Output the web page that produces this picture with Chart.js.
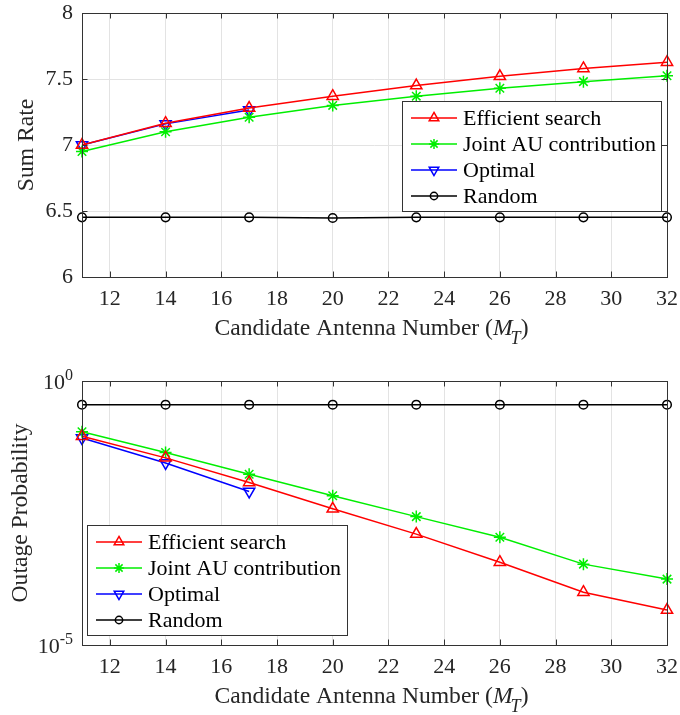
<!DOCTYPE html>
<html>
<head>
<meta charset="utf-8">
<script src="https://cdn.jsdelivr.net/npm/chart.js@4/dist/chart.umd.min.js"></script>
<style>
  html, body { margin: 0; padding: 0; background: #ffffff; }
  #wrap { position: relative; width: 680px; height: 715px; }
  canvas { position: absolute; left: 0; }
  #rate { top: 0; }
  #outage { top: 357px; }
</style>
</head>
<body>
<div id="wrap">
  <canvas id="rate" width="680" height="357"></canvas>
  <canvas id="outage" width="680" height="358"></canvas>
</div>
<script>
// Candidate antenna numbers M_T
const antennaNumbers = [11, 14, 17, 20, 23, 26, 29, 32];
const optimalAntennaNumbers = [11, 14, 17];
const xTickValues = [12, 14, 16, 18, 20, 22, 24, 26, 28, 30, 32];

// Sum rate
const rateEfficient = [7.00, 7.165, 7.28, 7.37, 7.45, 7.52, 7.58, 7.627];
const rateJoint     = [6.95, 7.10, 7.21, 7.30, 7.37, 7.43, 7.48, 7.525];
const rateOptimal   = [7.00, 7.16, 7.265];
const rateRandom    = [6.452, 6.452, 6.452, 6.447, 6.452, 6.452, 6.452, 6.452];
const rateTickValues = [6, 6.5, 7, 7.5, 8];

// Outage probability
const outEfficient = [0.090, 0.035, 0.0120, 0.0038, 0.00126, 3.7e-4, 1.0e-4, 4.6e-5];
const outJoint     = [0.109, 0.0443, 0.0172, 0.0067, 0.0027, 0.0011, 3.4e-4, 1.77e-4];
const outOptimal   = [0.083, 0.028, 0.0081];
const outRandom    = [0.356, 0.356, 0.356, 0.356, 0.356, 0.356, 0.356, 0.356];
const outTickExponents = [-5, 0];

const seriesNames = ['Efficient search', 'Joint AU contribution', 'Optimal', 'Random'];

const FONT = '"Liberation Serif", "Times New Roman", serif';
const FS = 22;      // tick labels and legend
const FT = 23.6;    // axis titles
const TEXT = '#262626';
const AXIS = '#333333';
const GRID = '#e3e3e3';

function pts(xs, ys) { return ys.map((y, i) => ({ x: xs[i], y: y })); }

function styles() {
  return [
    { color: '#ff0000', pointStyle: 'triangle', radius: 6.5, rotation: 0 },
    { color: '#00ee00', pointStyle: 'star', radius: 6, rotation: 0 },
    { color: '#0000ff', pointStyle: 'triangle', radius: 6.5, rotation: 180 },
    { color: '#000000', pointStyle: 'circle', radius: 4.3, rotation: 0 }
  ];
}

function makeDatasets(series) {
  const st = styles();
  return series.map((s, i) => ({
    label: seriesNames[i],
    data: s,
    borderColor: st[i].color,
    backgroundColor: 'rgba(0,0,0,0)',
    borderWidth: 1.5,
    pointStyle: st[i].pointStyle,
    pointRadius: st[i].radius,
    pointRotation: st[i].rotation,
    pointBorderColor: st[i].color,
    pointBackgroundColor: 'rgba(0,0,0,0)',
    pointBorderWidth: 1.5,
    tension: 0,
    clip: false
  }));
}

// Box frame, inward ticks, axis titles and the in-plot legend
function framePlugin(cfg) {
  return {
    id: 'frame_' + cfg.name,
    afterDatasetsDraw(chart) {
      const ctx = chart.ctx;
      const a = chart.chartArea;
      const xs = chart.scales.x, ys = chart.scales.y;
      ctx.save();
      // frame
      ctx.strokeStyle = AXIS;
      ctx.lineWidth = 1;
      ctx.strokeRect(a.left + 0.5, a.top + 0.5, a.right - a.left, a.bottom - a.top);
      // inward ticks on all four sides
      ctx.beginPath();
      xTickValues.forEach(v => {
        const px = Math.round(xs.getPixelForValue(v)) + 0.5;
        ctx.moveTo(px, a.bottom); ctx.lineTo(px, a.bottom - 5.5);
        ctx.moveTo(px, a.top); ctx.lineTo(px, a.top + 5.5);
      });
      cfg.yTicks.forEach(v => {
        const py = Math.round(ys.getPixelForValue(v)) + 0.5;
        ctx.moveTo(a.left, py); ctx.lineTo(a.left + 5.5, py);
        ctx.moveTo(a.right, py); ctx.lineTo(a.right - 5.5, py);
      });
      ctx.stroke();

      // legend
      const L = cfg.legend;
      ctx.fillStyle = '#ffffff';
      ctx.fillRect(L.x, L.y, L.w, L.h);
      ctx.strokeStyle = AXIS;
      ctx.strokeRect(L.x + 0.5, L.y + 0.5, L.w, L.h);
      const st = styles();
      ctx.font = FS + 'px ' + FONT;
      ctx.textBaseline = 'middle';
      ctx.textAlign = 'left';
      seriesNames.forEach((name, i) => {
        const cy = L.y + L.row0 + i * L.rowGap;
        ctx.strokeStyle = st[i].color;
        ctx.lineWidth = 1.5;
        ctx.beginPath();
        ctx.moveTo(L.x + 9, cy); ctx.lineTo(L.x + 55, cy);
        ctx.stroke();
        ctx.fillStyle = 'rgba(0,0,0,0)';
        Chart.helpers.drawPoint(ctx, {
          pointStyle: st[i].pointStyle,
          radius: st[i].radius * 0.85,
          rotation: st[i].rotation,
          borderWidth: 1.5
        }, L.x + 32, cy);
        ctx.fillStyle = '#000000';
        ctx.fillText(name, L.x + 61, cy + 1);
      });

      // x-axis title with italic subscripted M_T
      ctx.fillStyle = TEXT;
      ctx.textBaseline = 'alphabetic';
      const base = cfg.xTitleBaseline;
      const partA = 'Candidate Antenna Number (';
      const fN = FT + 'px ' + FONT;
      const fI = 'italic ' + FT + 'px ' + FONT;
      const fS = 'italic ' + Math.round(FT * 0.75) + 'px ' + FONT;
      ctx.font = fN; const wA = ctx.measureText(partA).width;
      ctx.font = fI; const wM = ctx.measureText('M').width;
      ctx.font = fS; const wT = ctx.measureText('T').width;
      ctx.font = fN; const wC = ctx.measureText(')').width;
      const total = wA + wM + wT + wC;
      let x0 = (a.left + a.right) / 2 - total / 2 - 2;
      ctx.font = fN; ctx.fillText(partA, x0, base); x0 += wA;
      ctx.font = fI; ctx.fillText('M', x0, base); x0 += wM;
      ctx.font = fS; ctx.fillText('T', x0 - 2, base + 9); x0 += wT;
      ctx.font = fN; ctx.fillText(')', x0 - 2, base);

      // y-axis title
      ctx.save();
      ctx.translate(cfg.yTitleX, (a.top + a.bottom) / 2);
      ctx.rotate(-Math.PI / 2);
      ctx.textAlign = 'center';
      ctx.textBaseline = 'middle';
      ctx.font = fN;
      ctx.fillText(cfg.yTitle, 0, 0);
      ctx.restore();

      // power-of-ten labels for the log axis
      if (cfg.log) {
        outTickExponents.forEach(e => {
          const py = ys.getPixelForValue(Math.pow(10, e));
          const sup = e < 0 ? '-' + Math.abs(e) : String(e);
          ctx.font = Math.round(FS * 0.72) + 'px ' + FONT;
          const ws = ctx.measureText(sup).width;
          ctx.textAlign = 'left';
          ctx.textBaseline = 'alphabetic';
          const right = a.left - 9;
          ctx.fillText(sup, right - ws, py - 1);
          ctx.font = FS + 'px ' + FONT;
          ctx.textAlign = 'right';
          ctx.fillText('10', right - ws, py + 8);
        });
      }
      ctx.restore();
    }
  };
}

function noPad(s) { s.paddingTop = 0; s.paddingBottom = 0; s.paddingLeft = 0; s.paddingRight = 0; }

function baseOptions(cfg) {
  return {
    responsive: false,
    animation: false,
    events: [],
    layout: { padding: { left: 0, right: 13, top: cfg.top, bottom: 0 } },
    plugins: { legend: { display: false }, tooltip: { enabled: false } },
    scales: {
      x: {
        type: 'linear',
        min: 11, max: 32,
        afterBuildTicks: s => { s.ticks = xTickValues.map(v => ({ value: v })); },
        afterFit: s => { s.height = cfg.xHeight; noPad(s); },
        grid: { color: GRID, lineWidth: 1, drawTicks: false },
        border: { display: false },
        ticks: {
          color: TEXT, font: { family: FONT, size: FS },
          padding: 9, maxRotation: 0, autoSkip: false,
          callback: v => String(v)
        }
      },
      y: cfg.y
    }
  };
}

// Sum rate chart
new Chart(document.getElementById('rate'), {
  type: 'line',
  data: {
    datasets: makeDatasets([
      pts(antennaNumbers, rateEfficient),
      pts(antennaNumbers, rateJoint),
      pts(optimalAntennaNumbers, rateOptimal),
      pts(antennaNumbers, rateRandom)
    ])
  },
  options: baseOptions({
    top: 13,
    xHeight: 80,
    y: {
      type: 'linear',
      min: 6, max: 8,
      afterBuildTicks: s => { s.ticks = rateTickValues.map(v => ({ value: v })); },
      afterFit: s => { s.width = 82; noPad(s); },
      grid: { color: GRID, lineWidth: 1, drawTicks: false },
      border: { display: false },
      ticks: { color: TEXT, font: { family: FONT, size: FS }, padding: 9, callback: v => String(v) }
    }
  }),
  plugins: [framePlugin({
    name: 'rate',
    yTicks: rateTickValues,
    yTitle: 'Sum Rate',
    yTitleX: 27,
    xTitleBaseline: 335,
    log: false,
    legend: { x: 402, y: 101, w: 259, h: 110, row0: 17, rowGap: 26 }
  })]
});

// Outage probability chart
new Chart(document.getElementById('outage'), {
  type: 'line',
  data: {
    datasets: makeDatasets([
      pts(antennaNumbers, outEfficient),
      pts(antennaNumbers, outJoint),
      pts(optimalAntennaNumbers, outOptimal),
      pts(antennaNumbers, outRandom)
    ])
  },
  options: baseOptions({
    top: 24,
    xHeight: 70,
    y: {
      type: 'logarithmic',
      min: 1e-5, max: 1,
      afterBuildTicks: s => { s.ticks = outTickExponents.map(e => ({ value: Math.pow(10, e) })); },
      afterFit: s => { s.width = 82; noPad(s); },
      grid: { color: GRID, lineWidth: 1, drawTicks: false },
      border: { display: false },
      ticks: { display: false }
    }
  }),
  plugins: [framePlugin({
    name: 'outage',
    yTicks: outTickExponents.map(e => Math.pow(10, e)),
    yTitle: 'Outage Probability',
    yTitleX: 21,
    xTitleBaseline: 346,
    log: true,
    legend: { x: 87, y: 168, w: 260, h: 110, row0: 17, rowGap: 26 }
  })]
});
</script>
</body>
</html>
